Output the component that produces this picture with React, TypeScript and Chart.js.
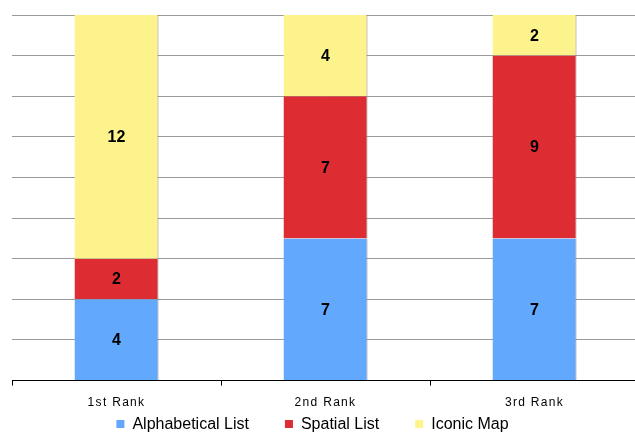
import React, { useEffect, useRef } from "react";
import { Chart, registerables } from "chart.js";

Chart.register(...registerables);

const categories = ["1st Rank", "2nd Rank", "3rd Rank"];
const alphabetical = [4, 7, 7];
const spatial = [2, 7, 9];
const iconic = [12, 4, 2];
const seriesNames = ["Alphabetical List", "Spatial List", "Iconic Map"];
const seriesColors = ["#62a8fd", "#dd2d32", "#fdf38c"];

const FONT = "'Liberation Sans', Arial, Helvetica, sans-serif";
const VIEW_W = 635;
const CANVAS_W = 640;
const H = 433;

const valueLabels = {
  id: "valueLabels",
  afterDatasetsDraw(chart: any) {
    const ctx = chart.ctx;
    ctx.save();
    ctx.letterSpacing = "0px";
    ctx.font = `bold 16px ${FONT}`;
    ctx.fillStyle = "#000";
    ctx.textAlign = "center";
    ctx.textBaseline = "middle";
    chart.data.datasets.forEach((ds: any, i: number) => {
      const meta = chart.getDatasetMeta(i);
      meta.data.forEach((el: any, j: number) => {
        const v = ds.data[j];
        if (!v) return;
        ctx.fillText(String(v), el.x, (el.y + el.base) / 2 + 1);
      });
    });
    ctx.restore();
  },
};

const tickSpacing = {
  id: "tickSpacing",
  beforeDraw(chart: any) {
    chart.ctx.letterSpacing = "1.3px";
  },
  beforeDatasetsDraw(chart: any) {
    chart.ctx.letterSpacing = "0px";
  },
};

const bottomLegend = {
  id: "bottomLegend",
  afterDraw(chart: any) {
    const ctx = chart.ctx;
    ctx.save();
    ctx.letterSpacing = "0px";
    ctx.font = `16px ${FONT}`;
    const box = 8;
    const gap = 8;
    const itemGap = 36;
    const items = chart.data.datasets.map((ds: any) => ({
      text: ds.label,
      color: ds.backgroundColor,
      w: ctx.measureText(ds.label).width,
    }));
    const total =
      items.reduce((s: number, it: any) => s + box + gap + it.w, 0) +
      itemGap * (items.length - 1);
    let x = (VIEW_W - total) / 2 - 5;
    const y = 424;
    ctx.textBaseline = "middle";
    ctx.textAlign = "left";
    items.forEach((it: any) => {
      ctx.fillStyle = it.color;
      ctx.fillRect(x, y - box / 2, box, box);
      ctx.fillStyle = "#000";
      ctx.fillText(it.text, x + box + gap, y + 1);
      x += box + gap + it.w + itemGap;
    });
    ctx.restore();
  },
};

export default function App() {
  const ref = useRef<HTMLCanvasElement | null>(null);
  useEffect(() => {
    if (!ref.current) return;
    const data = [alphabetical, spatial, iconic];
    const chart = new Chart(ref.current, {
      type: "bar",
      data: {
        labels: categories,
        datasets: data.map((d, i) => ({
          label: seriesNames[i],
          data: d,
          backgroundColor: seriesColors[i],
          borderColor: "#8a8a8a",
          borderWidth: { top: 0, right: 1, bottom: 0, left: 0 },
          borderSkipped: false,
          barPercentage: 0.402,
          categoryPercentage: 1,
        })),
      },
      options: {
        animation: false,
        responsive: false,
        maintainAspectRatio: false,
        layout: { padding: { left: 12, top: 15, right: 1, bottom: 13 } },
        scales: {
          x: {
            stacked: true,
            grid: {
              drawOnChartArea: false,
              drawTicks: true,
              tickLength: 5,
              color: "#000",
            },
            border: { display: true, color: "#000", width: 1 },
            ticks: {
              color: "#000",
              font: { family: FONT, size: 12 },
              padding: 10,
            },
          },
          y: {
            stacked: true,
            min: 0,
            max: 18,
            ticks: { display: false, stepSize: 2 },
            grid: { drawTicks: false, color: "#9a9a9a", lineWidth: 1 },
            border: { display: false },
          },
        },
        plugins: {
          legend: { display: false },
          tooltip: { enabled: false },
        },
      },
      plugins: [tickSpacing, valueLabels, bottomLegend],
    });
    return () => chart.destroy();
  }, []);
  return (
    <div
      style={{
        position: "fixed",
        left: 0,
        top: 0,
        width: VIEW_W,
        height: H,
        overflow: "hidden",
        background: "#fff",
      }}
    >
      <canvas ref={ref} width={CANVAS_W} height={H} style={{ width: CANVAS_W, height: H, display: "block" }} />
    </div>
  );
}
